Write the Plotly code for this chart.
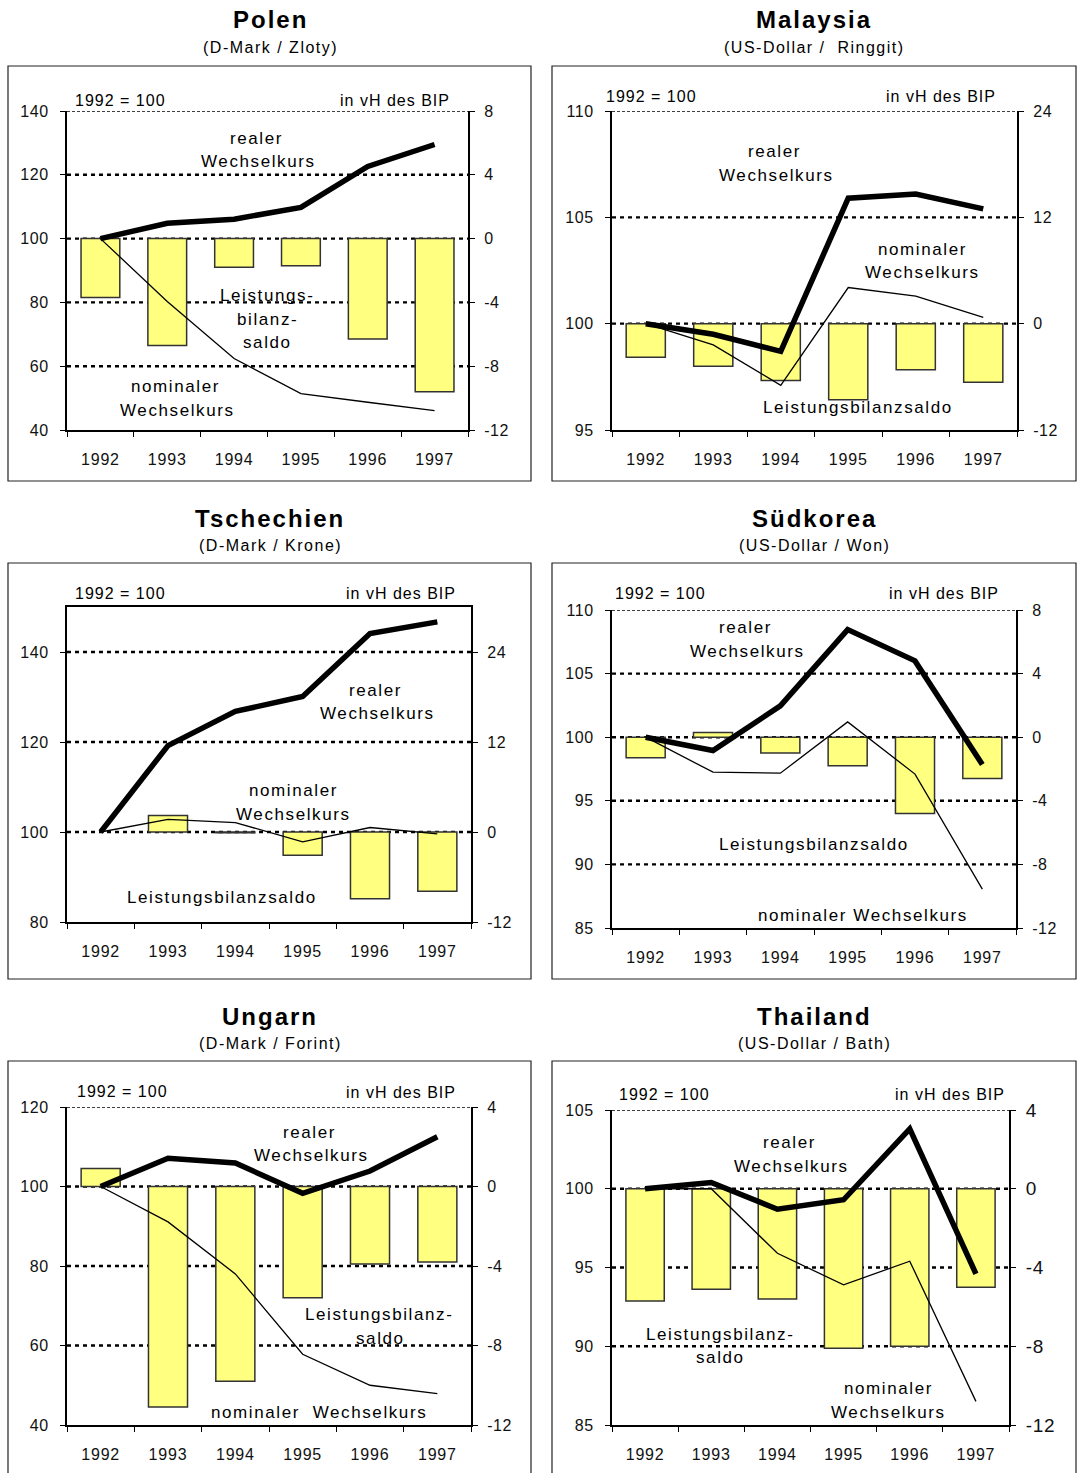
import plotly.graph_objects as go

W, H = 1080, 1473

years = ["1992", "1993", "1994", "1995", "1996", "1997"]

polen_real = [100, 104.8, 106.1, 109.8, 122.6, 129.5]
polen_nominal = [100, 80.3, 62.4, 51.4, 48.7, 46.1]
polen_saldo = [-3.7, -6.7, -1.8, -1.7, -6.3, -9.6]

malaysia_real = [100, 99.5, 98.7, 105.9, 106.1, 105.4]
malaysia_nominal = [100, 99.0, 97.1, 101.7, 101.3, 100.3]
malaysia_saldo = [-3.8, -4.8, -6.4, -8.6, -5.2, -6.6]

tschechien_real = [100, 119.2, 126.8, 130.1, 144.1, 146.7]
tschechien_nominal = [100, 102.8, 102.1, 97.8, 101.0, 99.6]
tschechien_saldo = [None, 2.2, -0.1, -3.1, -8.9, -7.9]

suedkorea_real = [100, 98.95, 102.46, 108.46, 106.0, 97.85]
suedkorea_nominal = [100, 97.25, 97.17, 101.2, 97.1, 88.06]
suedkorea_saldo = [-1.3, 0.3, -1.0, -1.8, -4.8, -2.6]

ungarn_real = [100, 107.1, 105.9, 98.3, 103.9, 112.5]
ungarn_nominal = [100, 91.1, 78.0, 57.8, 50.0, 47.9]
ungarn_saldo = [0.9, -11.1, -9.8, -5.6, -3.9, -3.8]

thailand_real = [100, 100.4, 98.7, 99.3, 103.8, 94.6]
thailand_nominal = [100, 100.0, 95.9, 93.9, 95.4, 86.5]
thailand_saldo = [-5.7, -5.1, -5.6, -8.1, -8.0, -5.0]

titles = ["Polen", "Malaysia", "Tschechien", "Südkorea", "Ungarn", "Thailand"]
subtitles = ["(D-Mark / Zloty)", "(US-Dollar /  Ringgit)", "(D-Mark / Krone)",
             "(US-Dollar / Won)", "(D-Mark / Forint)", "(US-Dollar / Bath)"]

index_ranges = [[40, 140], [95, 110], [80, 150], [85, 110], [40, 120], [85, 105]]
index_ticks = [[40, 60, 80, 100, 120, 140], [95, 100, 105, 110], [80, 100, 120, 140],
               [85, 90, 95, 100, 105, 110], [40, 60, 80, 100, 120], [85, 90, 95, 100, 105]]
saldo_ranges = [[-12, 8], [-12, 24], [-12, 30], [-12, 8], [-12, 4], [-12, 4]]
saldo_ticks = [[-12, -8, -4, 0, 4, 8], [-12, 0, 12, 24], [-12, 0, 12, 24],
               [-12, -8, -4, 0, 4, 8], [-12, -8, -4, 0, 4], [-12, -8, -4, 0, 4]]

reals = [polen_real, malaysia_real, tschechien_real, suedkorea_real, ungarn_real, thailand_real]
nominals = [polen_nominal, malaysia_nominal, tschechien_nominal, suedkorea_nominal, ungarn_nominal, thailand_nominal]
saldos = [polen_saldo, malaysia_saldo, tschechien_saldo, suedkorea_saldo, ungarn_saldo, thailand_saldo]

# layout geometry in pixels
plot_boxes = [(67, 111, 468, 430), (612, 111, 1017, 430),
              (67, 607, 471, 922), (612, 610, 1016, 928),
              (67, 1107, 471, 1425), (612, 1110, 1009, 1425)]
frames = [(8, 66, 531, 481), (552, 66, 1076, 481),
          (8, 563, 531, 979), (552, 563, 1076, 979),
          (8, 1061, 531, 1478), (552, 1061, 1076, 1478)]
title_y = [20, 20, 518, 518, 1016, 1016]
centers = [270, 814, 270, 814, 270, 814]


def fx(px):
    return px / W


def fy(py):
    return 1 - py / H


FONT = "Liberation Sans, Arial, sans-serif"
fig = go.Figure()
shapes = []
annotations = []


def sp(t, ls=1.6):
    return f'<span style="letter-spacing:{ls}px">{t}</span>'


for i in range(6):
    xn = i + 1
    yb = 2 * i + 1
    yl = 2 * i + 2
    xref = "x" if xn == 1 else f"x{xn}"
    ybref = "y" if yb == 1 else f"y{yb}"
    ylref = f"y{yl}"
    xkey = "xaxis" if xn == 1 else f"xaxis{xn}"
    ybkey = "yaxis" if yb == 1 else f"yaxis{yb}"
    ylkey = f"yaxis{yl}"

    fig.add_trace(go.Bar(x=years, y=saldos[i], xaxis=xref, yaxis=ybref, width=0.58,
                         marker=dict(color="#FFFF80", line=dict(color="#333333", width=1.5)),
                         showlegend=False, hoverinfo="skip"))
    fig.add_trace(go.Scatter(x=years, y=nominals[i], xaxis=xref, yaxis=ylref, mode="lines",
                             line=dict(color="black", width=1.3), showlegend=False))
    fig.add_trace(go.Scatter(x=years, y=reals[i], xaxis=xref, yaxis=ylref, mode="lines",
                             line=dict(color="black", width=5.5), showlegend=False))

    x0, y0, x1, y1 = plot_boxes[i]
    rfont = 19 if i == 5 else 16
    fig.layout[xkey] = dict(domain=[fx(x0), fx(x1)], anchor=ybref, type="category",
                            range=[-0.5, 5.5], tickson="boundaries", ticks="outside", ticklen=5,
                            tickmode="array", tickvals=years,
                            ticktext=[sp(y, 0.8) for y in years],
                            tickcolor="black", showline=True, linewidth=2, linecolor="black",
                            mirror=(i == 2), showgrid=False, zeroline=False, automargin=False,
                            tickfont=dict(family=FONT, size=16, color="#111"),
                            ticklabelstandoff=14, fixedrange=True)
    fig.layout[ybkey] = dict(domain=[fy(y1), fy(y0)], anchor=xref, side="right",
                             range=saldo_ranges[i], tickvals=saldo_ticks[i],
                             ticktext=[sp(str(v), 0.6) for v in saldo_ticks[i]], ticks="outside",
                             ticklen=5, tickcolor="black", showline=True, linewidth=2,
                             linecolor="black", showgrid=False, zeroline=False, automargin=False,
                             tickfont=dict(family=FONT, size=rfont, color="#111"),
                             ticklabelstandoff=6)
    fig.layout[ylkey] = dict(overlaying=ybref, anchor=xref, side="left",
                             range=index_ranges[i], tickvals=index_ticks[i],
                             ticktext=[sp(str(v), 0.6) for v in index_ticks[i]], ticks="outside",
                             ticklen=5, tickcolor="black", showline=True, linewidth=2,
                             linecolor="black", showgrid=False, zeroline=False, automargin=False,
                             tickfont=dict(family=FONT, size=16, color="#111"),
                             ticklabelstandoff=8)

    # dotted gridlines from the index axis ticks
    for v in index_ticks[i][1:]:
        top = (v == index_ranges[i][1])
        shapes.append(dict(type="line", xref=f"{xref} domain", yref=ylref, x0=0, x1=1, y0=v, y1=v,
                           line=dict(color="black", width=1.5 if top else 2.4,
                                     dash="3px,2px" if top else "4px,4px"),
                           layer="below"))

    # frame
    fx0, fy0, fx1, fy1 = frames[i]
    shapes.append(dict(type="rect", xref="paper", yref="paper", x0=fx(fx0), x1=fx(fx1),
                       y0=fy(fy1), y1=fy(fy0), line=dict(color="#222", width=1.2),
                       fillcolor="rgba(0,0,0,0)", layer="below"))

    # titles
    annotations.append(dict(text=f"<b>{sp(titles[i], 2.0)}</b>", x=fx(centers[i]), y=fy(title_y[i]),
                            xref="paper", yref="paper", showarrow=False, xanchor="center",
                            yanchor="middle", font=dict(family=FONT, size=24, color="black")))
    annotations.append(dict(text=sp(subtitles[i], 1.5), x=fx(centers[i]), y=fy(title_y[i] + 27),
                            xref="paper", yref="paper", showarrow=False, xanchor="center",
                            yanchor="middle", font=dict(family=FONT, size=16, color="black")))

# axis captions
captions = [
    ("1992 = 100", 73, 101, "left"), ("in vH des BIP", 452, 101, "right"),
    ("1992 = 100", 604, 97, "left"), ("in vH des BIP", 998, 96, "right"),
    ("1992 = 100", 73, 593, "left"), ("in vH des BIP", 458, 593, "right"),
    ("1992 = 100", 613, 593, "left"), ("in vH des BIP", 1001, 593, "right"),
    ("1992 = 100", 75, 1091, "left"), ("in vH des BIP", 458, 1092, "right"),
    ("1992 = 100", 617, 1094, "left"), ("in vH des BIP", 1007, 1094, "right"),
]
for t, px, py, anc in captions:
    annotations.append(dict(text=sp(t, 1.0), x=fx(px), y=fy(py), xref="paper", yref="paper",
                            showarrow=False, xanchor=anc, yanchor="middle",
                            font=dict(family=FONT, size=16, color="black")))

labels = [
    ("realer", 256, 138), ("Wechselkurs", 258, 161),
    ("Leistungs-", 267, 296), ("bilanz-", 267, 319), ("saldo", 267, 342),
    ("nominaler", 175, 386), ("Wechselkurs", 177, 410),
    ("realer", 774, 151), ("Wechselkurs", 776, 175),
    ("nominaler", 922, 249), ("Wechselkurs", 922, 273),
    ("Leistungsbilanzsaldo", 858, 408),
    ("realer", 375, 690), ("Wechselkurs", 377, 714),
    ("nominaler", 293, 790), ("Wechselkurs", 293, 814),
    ("Leistungsbilanzsaldo", 222, 898),
    ("realer", 745, 627), ("Wechselkurs", 747, 651),
    ("Leistungsbilanzsaldo", 814, 844), ("nominaler Wechselkurs", 863, 915),
    ("realer", 309, 1132), ("Wechselkurs", 311, 1155),
    ("Leistungsbilanz-", 379, 1314), ("saldo", 380, 1338),
    ("nominaler  Wechselkurs", 319, 1412),
    ("realer", 789, 1142), ("Wechselkurs", 791, 1166),
    ("Leistungsbilanz-", 720, 1334), ("saldo", 720, 1357),
    ("nominaler", 888, 1388), ("Wechselkurs", 888, 1412),
]
for t, px, py in labels:
    annotations.append(dict(text=sp(t.replace("  ", "&nbsp; "), 1.6), x=fx(px), y=fy(py),
                            xref="paper", yref="paper", showarrow=False, xanchor="center",
                            yanchor="middle", font=dict(family=FONT, size=17, color="black")))

fig.update_layout(width=W, height=H, margin=dict(l=0, r=0, t=0, b=0, pad=0, autoexpand=False),
                  paper_bgcolor="white", plot_bgcolor="rgba(0,0,0,0)",
                  shapes=shapes, annotations=annotations, barmode="overlay",
                  showlegend=False)

fig.write_html("out.html", config={"displayModeBar": False},
               post_script="document.documentElement.style.margin='0';"
                           "document.body.style.margin='0';document.body.style.padding='0';"
                           "document.body.style.overflow='hidden';")
